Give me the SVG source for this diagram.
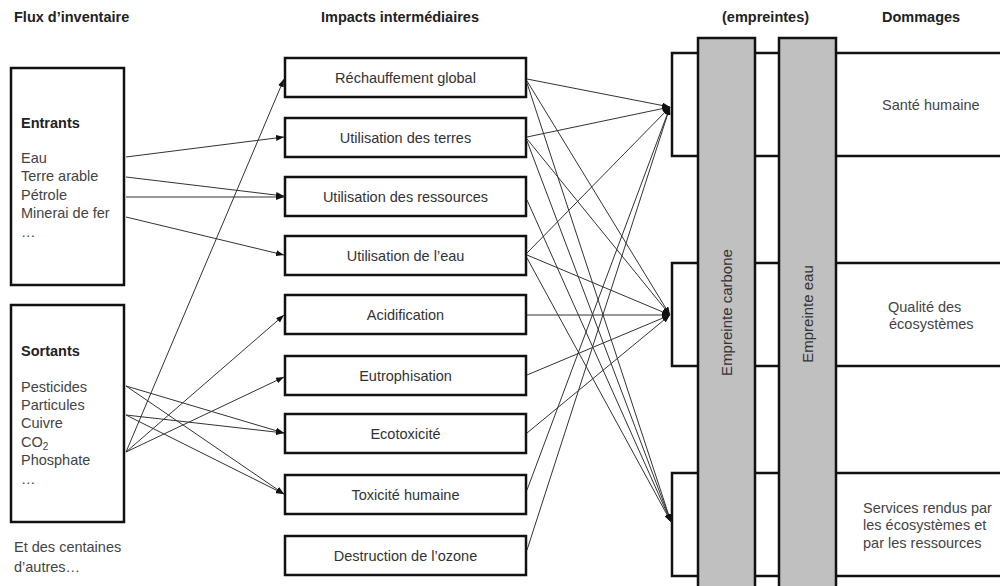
<svg xmlns="http://www.w3.org/2000/svg" width="1000" height="586" viewBox="0 0 1000 586">
<style>
  text { font-family: "Liberation Sans", Arial, sans-serif; }
  .hdr { font-size: 14.5px; font-weight: bold; fill: #222; }
  .body { font-size: 14.5px; fill: #444; }
  .lbl { font-size: 14.5px; fill: #333; text-anchor: middle; }
  .box { fill: #fff; stroke: #111; stroke-width: 2.5; }
  .bar { fill: #c0c0c0; stroke: #111; stroke-width: 2.5; }
  .conn line { stroke: #333; stroke-width: 1; marker-end: url(#ah); }
  .vt { font-size: 15px; fill: #333; text-anchor: middle; }
</style>
<defs>
  <marker id="ah" markerUnits="userSpaceOnUse" markerWidth="8" markerHeight="6" refX="8" refY="3" orient="auto">
    <path d="M0,0 L8,3 L0,6 z" fill="#111"/>
  </marker>
</defs>
<rect width="1000" height="586" fill="#fff"/>

<!-- headers -->
<g id="headers">
  <text class="hdr" x="14" y="22">Flux d’inventaire</text>
  <text class="hdr" x="321" y="22">Impacts intermédiaires</text>
  <text class="hdr" x="722" y="22">(empreintes)</text>
  <text class="hdr" x="882" y="22">Dommages</text>
</g>

<!-- inventory -->
<g id="entrants">
  <rect class="box" x="11" y="68" width="113" height="217"/>
  <text class="hdr" x="21" y="128">Entrants</text>
  <text class="body" x="21" y="163">Eau</text>
  <text class="body" x="21" y="181">Terre arable</text>
  <text class="body" x="21" y="199.5">Pétrole</text>
  <text class="body" x="21" y="218">Minerai de fer</text>
  <text class="body" x="21" y="237" fill="#888">…</text>
</g>
<g id="sortants">
  <rect class="box" x="11" y="305" width="113" height="217"/>
  <text class="hdr" x="21" y="356">Sortants</text>
  <text class="body" x="21" y="392">Pesticides</text>
  <text class="body" x="21" y="410">Particules</text>
  <text class="body" x="21" y="428">Cuivre</text>
  <text class="body" x="21" y="447">CO<tspan font-size="10" dy="3">2</tspan></text>
  <text class="body" x="21" y="465">Phosphate</text>
  <text class="body" x="21" y="484" fill="#888">…</text>
</g>
<g id="autres">
  <text class="body" x="14" y="552">Et des centaines</text>
  <text class="body" x="14" y="572">d’autres…</text>
</g>

<!-- midpoint impacts -->
<g id="m1"><rect class="box" x="285" y="58" width="241" height="39"/><text class="lbl" x="405.5" y="82.5">Réchauffement  global</text></g>
<g id="m2"><rect class="box" x="285" y="118" width="241" height="39"/><text class="lbl" x="405.5" y="142.5">Utilisation des terres</text></g>
<g id="m3"><rect class="box" x="285" y="177" width="241" height="39"/><text class="lbl" x="405.5" y="201.5">Utilisation des ressources</text></g>
<g id="m4"><rect class="box" x="285" y="236" width="241" height="39"/><text class="lbl" x="405.5" y="260.5">Utilisation de l’eau</text></g>
<g id="m5"><rect class="box" x="285" y="295" width="241" height="39"/><text class="lbl" x="405.5" y="319.5">Acidification</text></g>
<g id="m6"><rect class="box" x="285" y="356" width="241" height="39"/><text class="lbl" x="405.5" y="380.5">Eutrophisation</text></g>
<g id="m7"><rect class="box" x="285" y="414" width="241" height="39"/><text class="lbl" x="405.5" y="438.5">Ecotoxicité</text></g>
<g id="m8"><rect class="box" x="285" y="475" width="241" height="39"/><text class="lbl" x="405.5" y="499.5">Toxicité humaine</text></g>
<g id="m9"><rect class="box" x="285" y="536" width="241" height="39"/><text class="lbl" x="405.5" y="560.5">Destruction de l’ozone</text></g>

<!-- damages -->
<g id="d1"><rect class="box" x="672" y="53" width="340" height="103"/><text class="body" x="882" y="110">Santé humaine</text></g>
<g id="d2"><rect class="box" x="672" y="263" width="340" height="103"/><text class="body" x="888" y="312">Qualité des</text><text class="body" x="889" y="329">écosystèmes</text></g>
<g id="d3"><rect class="box" x="672" y="473" width="340" height="103"/><text class="body" x="863" y="513">Services rendus par</text><text class="body" x="863" y="530">les écosystèmes et</text><text class="body" x="863" y="548">par les ressources</text></g>

<!-- footprints -->
<g id="carbone"><rect class="bar" x="698" y="38" width="57" height="560"/><text class="vt" transform="translate(732,312.5) rotate(-90)">Empreinte carbone</text></g>
<g id="eau"><rect class="bar" x="779" y="38" width="57" height="560"/><text class="vt" transform="translate(813,314) rotate(-90)">Empreinte eau</text></g>

<!-- connectors -->
<g id="connectors" class="conn">
  <line x1="126" y1="157" x2="284" y2="137"/>
  <line x1="126" y1="177" x2="284" y2="196"/>
  <line x1="126" y1="197" x2="284" y2="197"/>
  <line x1="126" y1="217" x2="284" y2="255"/>
  <line x1="126" y1="452" x2="284" y2="79"/>
  <line x1="126" y1="452" x2="284" y2="315"/>
  <line x1="126" y1="452" x2="284" y2="377"/>
  <line x1="126" y1="386" x2="284" y2="433"/>
  <line x1="126" y1="386" x2="284" y2="494"/>
  <line x1="126" y1="415" x2="284" y2="433"/>
  <line x1="126" y1="415" x2="284" y2="494"/>

  <line x1="527" y1="79" x2="670" y2="107"/>
  <line x1="527" y1="81" x2="670" y2="315"/>
  <line x1="527" y1="83" x2="671" y2="522"/>
  <line x1="527" y1="137" x2="670" y2="107"/>
  <line x1="527" y1="139" x2="670" y2="315"/>
  <line x1="527" y1="141" x2="671" y2="522"/>
  <line x1="527" y1="200" x2="671" y2="522"/>
  <line x1="527" y1="253" x2="670" y2="107"/>
  <line x1="527" y1="255" x2="670" y2="315"/>
  <line x1="527" y1="258" x2="671" y2="522"/>
  <line x1="527" y1="315" x2="670" y2="315"/>
  <line x1="527" y1="375" x2="670" y2="315"/>
  <line x1="527" y1="433" x2="670" y2="315"/>
  <line x1="527" y1="490" x2="670" y2="107"/>
  <line x1="527" y1="550" x2="670" y2="107"/>
</g>
</svg>
